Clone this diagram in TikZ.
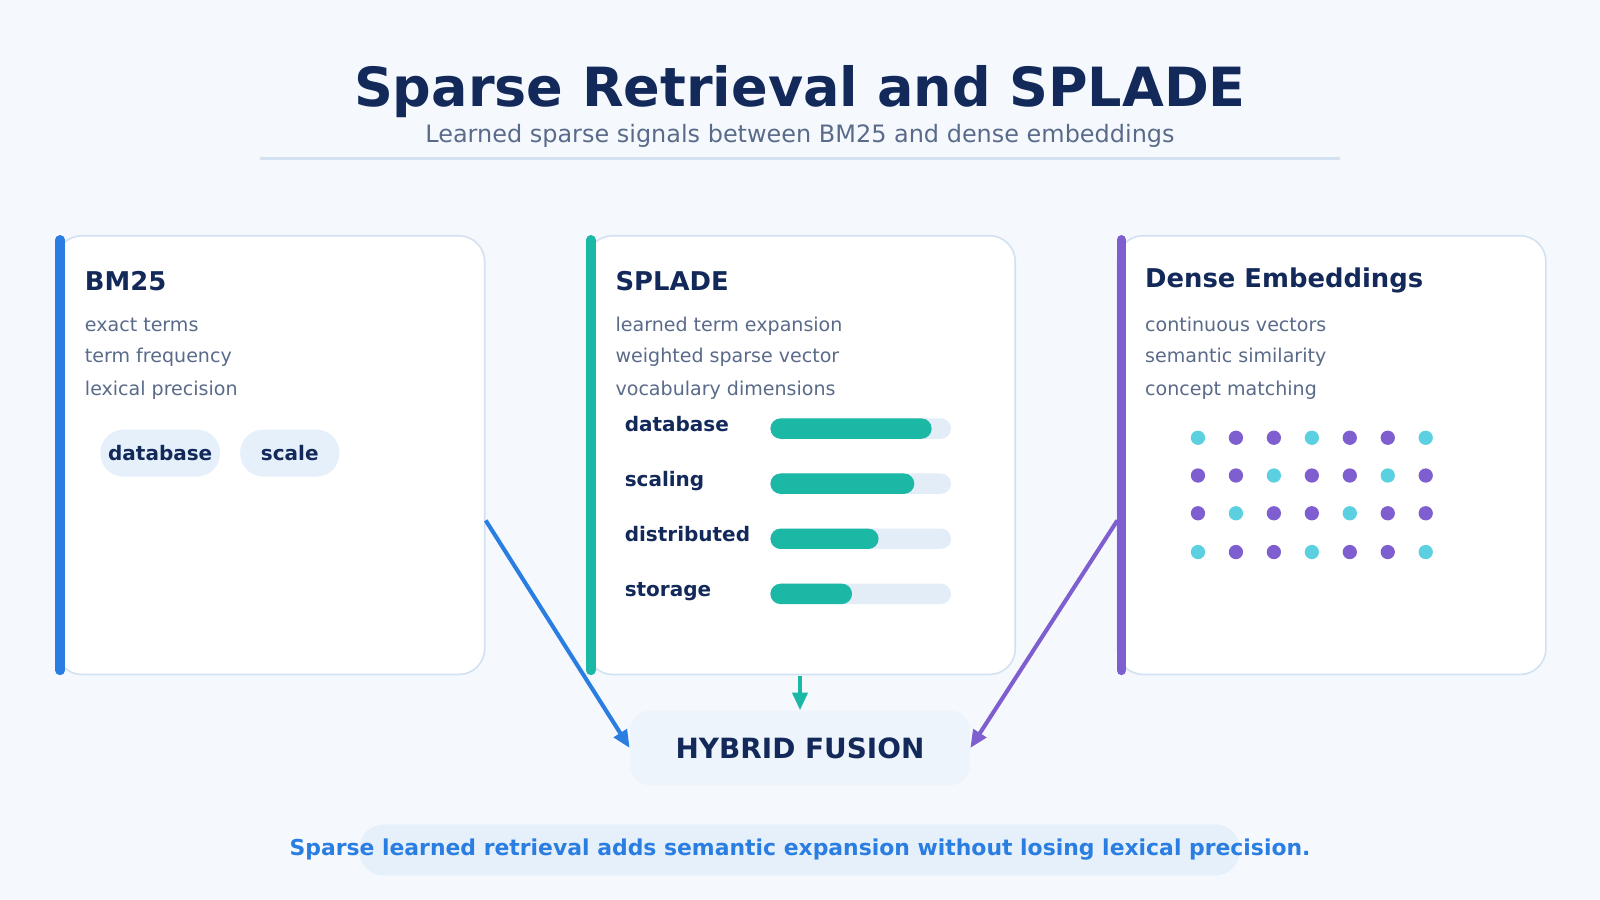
\documentclass[tikz,border=0pt]{standalone}
\usepackage{fontspec}
\setmainfont{DejaVu Sans}
\usetikzlibrary{arrows.meta}
\definecolor{bg}{HTML}{F5F9FE}
\definecolor{navy}{HTML}{12295A}
\definecolor{gr}{HTML}{5A6B8A}
\definecolor{bord}{HTML}{D3E1F1}
\definecolor{blu}{HTML}{2A7DE1}
\definecolor{tea}{HTML}{1BB8A6}
\definecolor{pur}{HTML}{7F5FCF}
\definecolor{cya}{HTML}{5BD0E0}
\definecolor{pill}{HTML}{E6F0FB}
\definecolor{track}{HTML}{E3EDF7}
\begin{document}
\begin{tikzpicture}[x=0.75pt,y=-0.75pt,
  card/.style={draw=bord,line width=1.2pt,fill=white,rounded corners=19pt},
  head/.style={anchor=west,inner sep=0pt,font=\bfseries\fontsize{19}{22}\selectfont,text=navy},
  item/.style={anchor=west,inner sep=0pt,text height=10pt,text depth=3pt,font=\fontsize{14}{16}\selectfont,text=gr},
  lab/.style={anchor=west,inner sep=0pt,text height=10pt,text depth=3pt,font=\bfseries\fontsize{14.7}{17}\selectfont,text=navy},
  pl/.style={fill=pill,rounded corners=17pt,minimum height=34.5pt,font=\bfseries\fontsize{14.7}{17}\selectfont,text=navy,inner sep=0pt},
  arr/.style={line width=3pt,-{Triangle[length=13pt,width=11pt]}},
  dot/.style={circle,inner sep=0pt,minimum size=10.5pt}]
\fill[bg] (0,0) rectangle (1568,882);
\useasboundingbox (0,0) rectangle (1568,882);
\node[font=\bfseries\fontsize{39.7}{45}\selectfont,text=navy] (title) at (784,90) {Sparse Retrieval and SPLADE};
\node[font=\fontsize{17.6}{20}\selectfont,text=gr] (sub) at (784,133) {Learned sparse signals between BM25 and dense embeddings};
\draw[bord,line width=2.2pt] (255,155) -- (1313,155);
% cards
\foreach \x/\c in {55/blu,575/tea,1095/pur}{
  \draw[card] (\x,231) rectangle (\x+420,661);
  \draw[\c,line width=7pt,line cap=round] (\x+4,235) -- (\x+4,657);
}
\node[head] (h1) at (83,275) {BM25};
\node[item] (a1) at (83,320) {exact terms};
\node[item] (a2) at (83,351) {term frequency};
\node[item] (a3) at (83,383) {lexical precision};
\node[pl,minimum width=88pt] (p1) at (157,444) {database};
\node[pl,minimum width=73pt] (p2) at (284,444) {scale};
\node[head] (h2) at (603,275) {SPLADE};
\node[item] (b1) at (603,320) {learned term expansion};
\node[item] (b2) at (603,351) {weighted sparse vector};
\node[item] (b3) at (603,383) {vocabulary dimensions};
\foreach \y/\t/\e in {418/database/913,472/scaling/896,526/distributed/861,580/storage/835}{
  \node[lab] at (612,\y) {\t};
  \fill[track,rounded corners=7.5pt] (755,\y-8) rectangle (932,\y+12);
  \fill[tea,rounded corners=7.5pt] (755,\y-8) rectangle (\e,\y+12);
}
\node[head] (h3) at (1122,275) {Dense Embeddings};
\node[item] (c1) at (1122,320) {continuous vectors};
\node[item] (c2) at (1122,351) {semantic similarity};
\node[item] (c3) at (1122,383) {concept matching};
\foreach \row/\y in {{cya,pur,pur,cya,pur,pur,cya}/429,{pur,pur,cya,pur,pur,cya,pur}/466,{pur,cya,pur,pur,cya,pur,pur}/503,{cya,pur,pur,cya,pur,pur,cya}/541}{
  \foreach \c [count=\i] in \row {
    \node[dot,fill=\c] at ({1174+37.2*(\i-1)},\y) {};
  }
}
% fusion
\node[fill=pill!70!white,rounded corners=15pt,minimum width=250pt,minimum height=55pt,font=\bfseries\fontsize{20.5}{24}\selectfont,text=navy] (fus) at (784,733) {HYBRID FUSION};
\coordinate (s1) at (476,510);
\coordinate (s2) at (784,662);
\coordinate (s3) at (1095,510);
\draw[arr,blu] (s1) -- (fus.west);
\draw[arr,tea] (s2) -- (fus.north);
\draw[arr,pur] (s3) -- (fus.east);
\fill[pill] (352,808) [rounded corners=18pt] rectangle (1215,858);
\node[font=\bfseries\fontsize{16.1}{19}\selectfont,text=blu] (note) at (784,833) {Sparse learned retrieval adds semantic expansion without losing lexical precision.};
\end{tikzpicture}
\end{document}
